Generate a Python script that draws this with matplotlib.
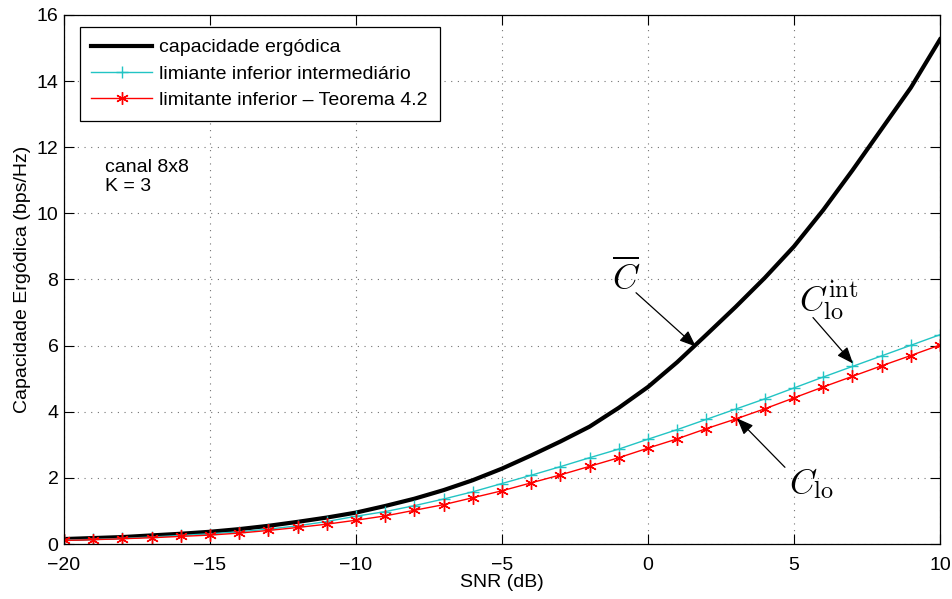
import numpy as np
import matplotlib
matplotlib.use("Agg")
import matplotlib.pyplot as plt

plt.rcParams['font.family'] = ['Liberation Sans', 'DejaVu Sans']
plt.rcParams['mathtext.fontset'] = 'cm'

# SNR em dB
snr_db = np.arange(-20, 11)

# capacidade ergodica media
cap_ergodica = [0.15, 0.18, 0.21, 0.26, 0.31, 0.37, 0.45, 0.55, 0.67, 0.80,
                0.95, 1.15, 1.37, 1.63, 1.93, 2.28, 2.68, 3.10, 3.55, 4.12,
                4.75, 5.50, 6.33, 7.17, 8.05, 9.00, 10.10, 11.30, 12.55, 13.80,
                15.26]

# limitante inferior intermediario
lim_intermed = [0.12, 0.14, 0.17, 0.21, 0.26, 0.31, 0.37, 0.45, 0.55, 0.68,
                0.84, 0.98, 1.16, 1.36, 1.58, 1.83, 2.08, 2.34, 2.61, 2.87,
                3.17, 3.46, 3.77, 4.08, 4.39, 4.72, 5.05, 5.37, 5.69, 6.01,
                6.33]

# limitante inferior (Teorema 4.2)
lim_teorema = [0.11, 0.13, 0.16, 0.19, 0.23, 0.27, 0.33, 0.41, 0.50, 0.60,
               0.72, 0.85, 1.02, 1.19, 1.40, 1.61, 1.85, 2.09, 2.35, 2.61,
               2.90, 3.18, 3.49, 3.78, 4.09, 4.42, 4.75, 5.07, 5.39, 5.70,
               6.02]

labels = ['capacidade ergódica',
          'limiante inferior intermediário',
          'limitante inferior \u2013 Teorema 4.2']

fig = plt.figure(figsize=(9.52, 5.99), dpi=100)
ax = fig.add_axes([0.0672, 0.0918, 0.9202, 0.8832])

ax.plot(snr_db, cap_ergodica, color='k', lw=3, label=labels[0])
ax.plot(snr_db, lim_intermed, color='#22c4c4', lw=1, marker='+', ms=9,
        mew=1, label=labels[1])
ax.plot(snr_db, lim_teorema, color='r', lw=1, marker=(6, 2, 0), ms=9,
        mew=1, label=labels[2])

ax.set_xlim(-20, 10)
ax.set_ylim(0, 16)
ax.set_xticks(np.arange(-20, 11, 5))
ax.set_yticks(np.arange(0, 17, 2))
ax.set_xticklabels(['\u2212' + str(-t) if t < 0 else str(t) for t in range(-20, 11, 5)])
ax.tick_params(direction='in', length=7, width=0.8, top=True, right=True,
               labelsize=14)
ax.tick_params(axis='x', pad=9)
ax.tick_params(axis='y', pad=4)
for s in ax.spines.values():
    s.set_linewidth(0.9)
ax.grid(True, color='0.45', linestyle=(0, (1, 5)), lw=0.8)

ax.set_xlabel('SNR (dB)', fontsize=14, labelpad=0)
ax.set_ylabel('Capacidade Ergódica (bps/Hz)', fontsize=14, labelpad=4)

leg = ax.legend(loc='upper left', bbox_to_anchor=(0.018, 0.977), fontsize=14,
                fancybox=False, framealpha=1, edgecolor='k', handlelength=3.1,
                borderpad=0.6, labelspacing=0.45, handletextpad=0.4,
                borderaxespad=0)
leg.get_frame().set_linewidth(0.9)

ax.text(-18.6, 11.1, 'canal 8x8\nK = 3', fontsize=14, va='center',
        linespacing=1.1)

# setas das curvas
arrow = dict(arrowstyle='-|>,head_length=1.0,head_width=0.4',
             color='k', lw=0.9, shrinkA=0, shrinkB=0, mutation_scale=10)
ax.annotate('', xy=(1.64, 5.97), xytext=(-0.41, 7.6), arrowprops=arrow)
ax.annotate('', xy=(7.02, 5.46), xytext=(5.65, 6.85), arrowprops=arrow)
ax.annotate('', xy=(3.05, 3.80), xytext=(4.69, 2.32), arrowprops=arrow)

ax.text(-0.75, 7.72, r'$\overline{C}$', fontsize=25, ha='center', va='baseline')
ax.text(5.17, 7.06, r'$C_{\rm lo}^{\rm int}$', fontsize=25, ha='left', va='baseline')
ax.text(4.83, 1.54, r'$C_{\rm lo}$', fontsize=25, ha='left', va='baseline')

fig.savefig('out.png', dpi=100)
